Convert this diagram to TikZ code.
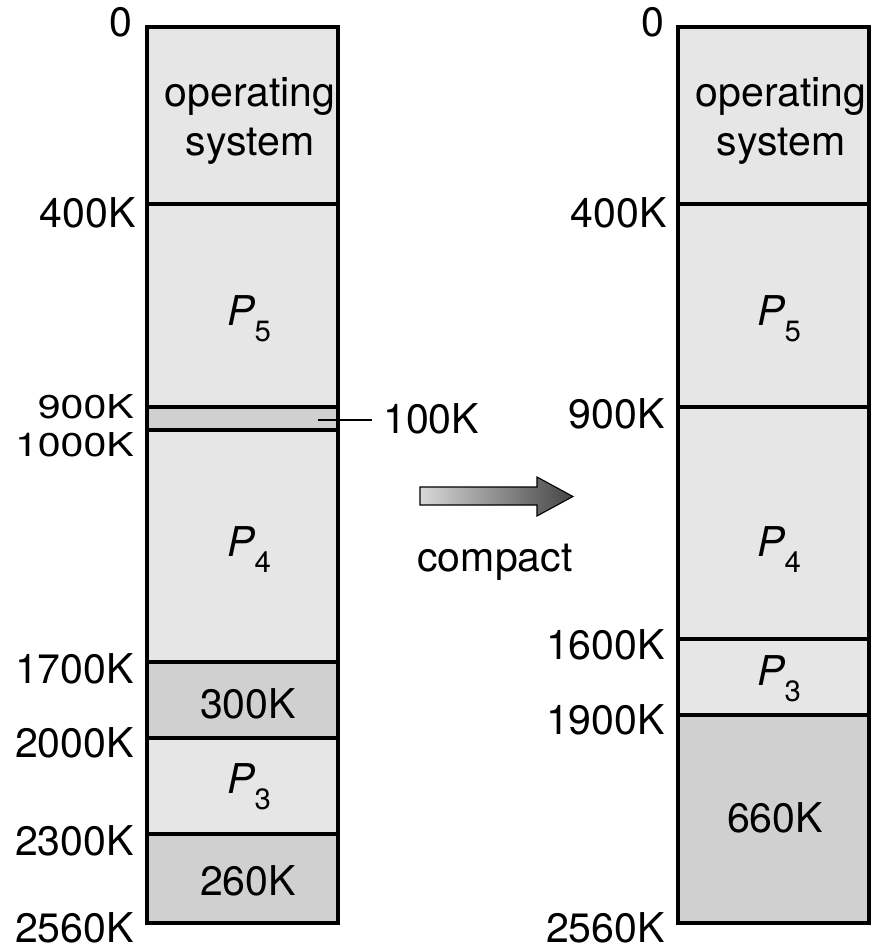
\documentclass[tikz,border=0pt]{standalone}
\usepackage{fontspec}
\setmainfont{TeX Gyre Heros}
\definecolor{memlight}{HTML}{E6E6E6}
\definecolor{memhole}{HTML}{D0D0D0}
\definecolor{arrlight}{HTML}{D8D8D8}
\definecolor{arrdark}{HTML}{454545}
\newcommand{\memfont}{\fontsize{30.8}{34}\selectfont}
\newcommand{\proc}[1]{{\itshape P}\raisebox{-12pt}{\fontsize{22}{22}\selectfont #1}}
\newcommand{\squash}[1]{\scalebox{1}[0.8]{#1}}
\begin{document}
\begin{tikzpicture}[x=0.75pt,y=-0.75pt,
  seg/.style={fill=memlight},
  hole/.style={fill=memhole},
  divider/.style={draw=black,line width=2.4pt},
  frame/.style={draw=black,line width=2.6pt},
  addr/.style={anchor=base east,inner sep=0pt,font=\memfont},
  txt/.style={anchor=base,inner sep=0pt,font=\memfont},
  every node/.style={text=black}]
\useasboundingbox (0,0) rectangle (871,949);
% ---------- left memory ----------
\path[seg] (147,27) rectangle (338,923);
\path[hole] (147,407) rectangle (338,430);
\path[hole] (147,662) rectangle (338,738);
\path[hole] (147,834) rectangle (338,923);
\draw[divider] (147,204) -- (338,204);
\draw[divider] (147,407) -- (338,407);
\draw[divider] (147,430) -- (338,430);
\draw[divider] (147,662) -- (338,662);
\draw[divider] (147,738) -- (338,738);
\draw[divider] (147,834) -- (338,834);
\draw[frame] (147,27) rectangle (338,923);
\node[txt] (los1) at (250,107) {operating};
\node[txt] (los2) at (250,155) {system};
\node[txt] (lp5) at (249,325) {\proc{5}};
\node[txt] (lp4) at (249,556) {\proc{4}};
\node[txt] (l300) at (248,718) {300K};
\node[txt] (lp3) at (249,793) {\proc{3}};
\node[txt] (l260) at (248,895) {260K};
\node[addr] (la0) at (133,37) {0};
\node[addr] (la400) at (136,227) {400K};
\node[addr] (la900) at (134,418) {\squash{900K}};
\node[addr] (la1000) at (134,456) {\squash{1000K}};
\node[addr] (la1700) at (134,683) {1700K};
\node[addr] (la2000) at (134,757) {2000K};
\node[addr] (la2300) at (134,855) {2300K};
\node[addr] (la2560) at (134,942) {2560K};
% hole size label
\node[anchor=base west,inner sep=0pt,font=\memfont] (h100) at (383,433) {100K};
\coordinate (hleader) at (318,420);
\draw[line width=2.2pt] (hleader) -- (372,420);
% ---------- arrow ----------
\path[draw=black,line width=0.8pt,left color=arrlight,right color=arrdark]
  (420,487) -- (537,487) -- (537,477) -- (573,496.5) -- (537,516) -- (537,505) -- (420,505) -- cycle;
\node[txt] (compact) at (495,571) {compact};
% ---------- right memory ----------
\path[seg] (678,27) rectangle (869,923);
\path[hole] (678,715) rectangle (869,923);
\draw[divider] (678,204) -- (869,204);
\draw[divider] (678,407) -- (869,407);
\draw[divider] (678,639) -- (869,639);
\draw[divider] (678,715) -- (869,715);
\draw[frame] (678,27) rectangle (869,923);
\node[txt] (ros1) at (781,107) {operating};
\node[txt] (ros2) at (781,155) {system};
\node[txt] (rp5) at (779,325) {\proc{5}};
\node[txt] (rp4) at (779,556) {\proc{4}};
\node[txt] (rp3) at (779,685) {\proc{3}};
\node[txt] (r660) at (775,832) {660K};
\node[addr] (ra0) at (665,37) {0};
\node[addr] (ra400) at (667,227) {400K};
\node[addr] (ra900) at (665,428) {900K};
\node[addr] (ra1600) at (665,659) {1600K};
\node[addr] (ra1900) at (665,734) {1900K};
\node[addr] (ra2560) at (665,942) {2560K};
\end{tikzpicture}
\end{document}
